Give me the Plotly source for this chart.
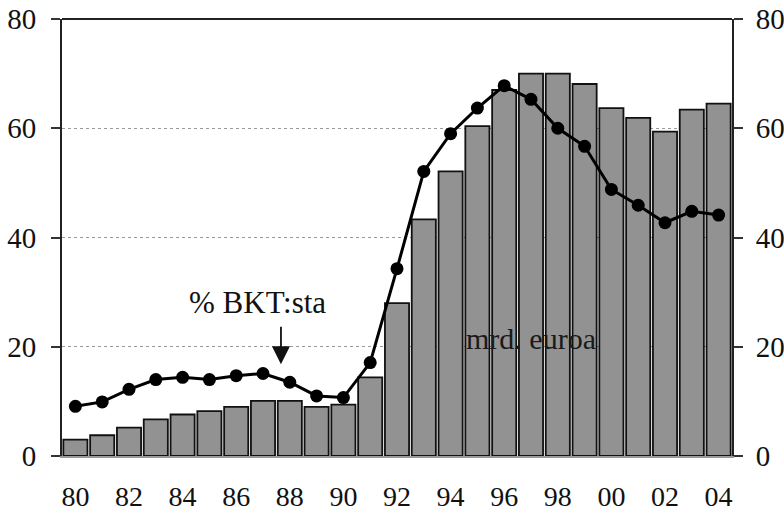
import plotly.graph_objects as go

years = list(range(1980, 2005))
tick_years = list(range(1980, 2005, 2))
tick_labels = ["80", "82", "84", "86", "88", "90", "92", "94", "96", "98", "00", "02", "04"]
y_ticks = [0, 20, 40, 60, 80]

mrd_euroa = [3.0, 3.8, 5.2, 6.7, 7.6, 8.2, 9.0, 10.1, 10.1, 9.0, 9.4, 14.4, 28.0,
             43.3, 52.1, 60.4, 67.0, 70.0, 70.0, 68.1, 63.7, 61.9, 59.4, 63.4, 64.5]
pct_bkt = [9.1, 9.9, 12.2, 14.0, 14.4, 14.0, 14.7, 15.1, 13.5, 11.0, 10.7, 17.1, 34.3,
           52.1, 59.0, 63.7, 67.8, 65.3, 60.0, 56.7, 48.8, 45.9, 42.7, 44.8, 44.1]

FONT = "Liberation Serif"

fig = go.Figure()
fig.add_trace(go.Bar(
    x=years, y=mrd_euroa, name="mrd. euroa",
    marker=dict(color="#929292", line=dict(color="#111111", width=1.8)),
))
fig.add_trace(go.Scatter(
    x=years, y=pct_bkt, name="% BKT:sta", mode="lines+markers",
    line=dict(color="#000000", width=3),
    marker=dict(color="#000000", size=13),
))
# invisible trace to activate right axis
fig.add_trace(go.Scatter(x=[years[0]], y=[0], yaxis="y2", mode="markers",
                         marker=dict(opacity=0), showlegend=False, hoverinfo="skip"))

fig.update_layout(
    width=784, height=517,
    margin=dict(l=62, r=52, t=19, b=61, autoexpand=False),
    paper_bgcolor="white", plot_bgcolor="white",
    showlegend=False, bargap=0.1,
    font=dict(family=FONT, size=29, color="#111111"),
    xaxis=dict(
        range=[1979.5, 2004.5], tickvals=tick_years, ticktext=tick_labels,
        showgrid=False, zeroline=False, showline=True, linecolor="#9a9a9a", linewidth=1.5,
        ticks="", ticklabelstandoff=15, tickfont=dict(family=FONT, size=28),
        automargin=False,
    ),
    yaxis=dict(
        range=[0, 80], tickvals=y_ticks, showgrid=True, gridcolor="#9a9a9a",
        griddash="dot", gridwidth=1, zeroline=False,
        showline=True, linecolor="#222222", linewidth=2,
        ticks="outside", ticklen=9, tickcolor="#333333", tickwidth=1.5,
        ticklabelstandoff=9, tickfont=dict(family=FONT, size=29),
        automargin=False,
    ),
    yaxis2=dict(
        range=[0, 80], tickvals=y_ticks, overlaying="y", side="right",
        showgrid=False, zeroline=False,
        showline=True, linecolor="#222222", linewidth=2,
        ticks="outside", ticklen=9, tickcolor="#333333", tickwidth=1.5,
        ticklabelstandoff=7, tickfont=dict(family=FONT, size=29),
        automargin=False,
    ),
    shapes=[dict(type="line", xref="paper", yref="paper", x0=0, x1=1, y0=1, y1=1,
                 line=dict(color="#222222", width=2))],
    annotations=[
        dict(x=1986.8, y=28.1, text="% BKT:sta", showarrow=False,
             font=dict(family=FONT, size=31, color="#111111")),
        dict(x=1987.67, y=16.8, text="", showarrow=True, ax=0, ay=-39,
             arrowhead=2, arrowsize=2, arrowwidth=1.8, arrowcolor="#111111"),
        dict(x=1997.0, y=21.5, text="mrd. euroa", showarrow=False,
             font=dict(family=FONT, size=30, color="#1a1a1a")),
    ],
)

fig.write_html("out.html", config={"displayModeBar": False},
               post_script="document.body.style.margin='0';document.body.style.overflow='hidden';")
